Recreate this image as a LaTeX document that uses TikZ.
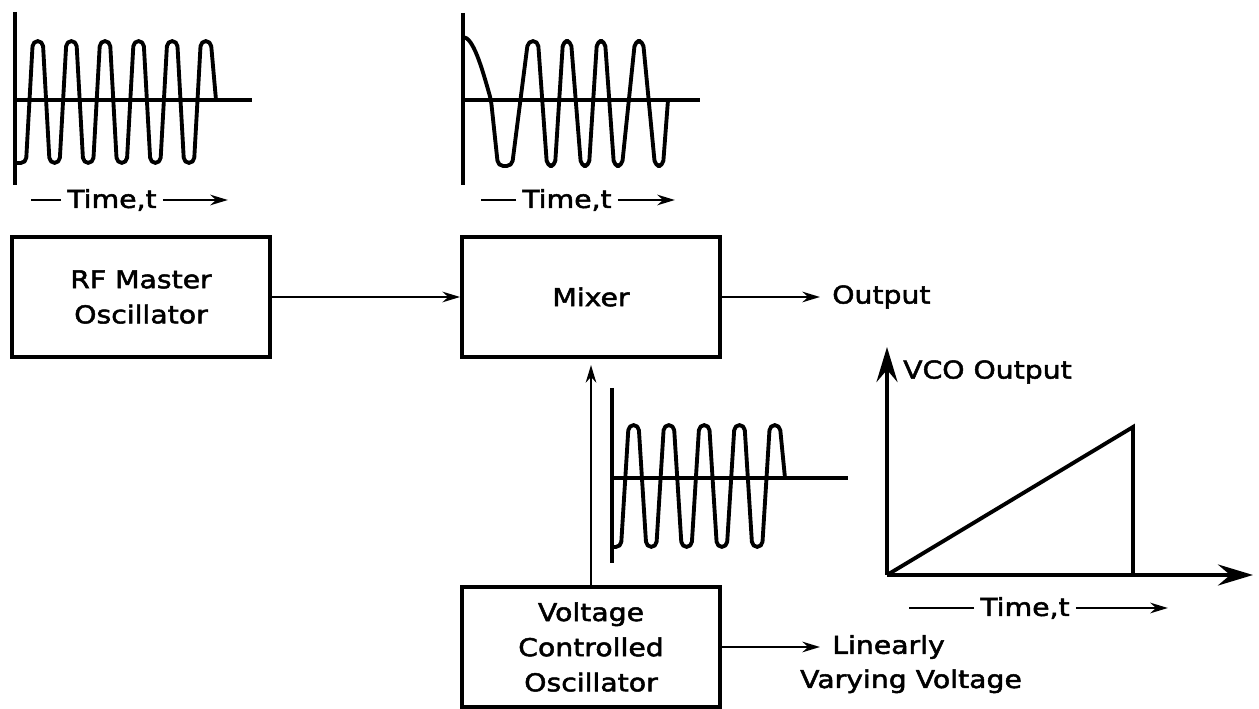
\documentclass[tikz,border=0pt]{standalone}
\usepackage{fontspec}
\setmainfont{DejaVu Sans}[FakeStretch=1.15, FakeBold=2]
\usetikzlibrary{arrows.meta}

\begin{document}
\begin{tikzpicture}[x=0.02cm, y=-0.02cm, >={Stealth[length=10pt,width=6pt]},
  every node/.style={font=\fontsize{14pt}{20pt}\selectfont},
  blk/.style={draw, line width=2.2pt, minimum width=5.16cm, minimum height=2.4cm, align=center},
  lbl/.style={inner sep=0pt, outer sep=7pt},
  conn/.style={->, line width=1.4pt},
  wave/.style={line width=2.2pt, line join=round, rounded corners=3pt},
  axis/.style={line width=2.2pt},
  bigtip/.style={-{Stealth[length=20pt,width=12pt,inset=7pt]}, line width=2.2pt}]
\useasboundingbox (0,0) rectangle (1259,709);

% blocks
\node[blk] (rf) at (141,297) {RF Master\\Oscillator};
\node[blk] (mix) at (591,297) {Mixer};
\node[blk] (vco) at (591,647) {Voltage\\Controlled\\Oscillator};
\node[lbl, anchor=west] (out) at (820,297) {Output};
\node[lbl, anchor=west] (lin) at (820,647) {Linearly};
\node[lbl, anchor=base] (vary) at (911,688) {Varying Voltage};

\draw[conn] (rf) -- (mix);
\draw[conn] (mix) -- (out);
\draw[conn, shorten >=3.5pt] (vco) -- (mix);
\draw[conn] (vco) -- (lin);

% RF master waveform
\draw[axis] (15,12) -- (15,185);
\draw[axis] (15,100) -- (252,100);
\draw[wave] (15,163) foreach \k in {0,...,4}{
    -- ({26+33.6*\k},163) -- ({32.8+33.6*\k},41) -- ({42.8+33.6*\k},41) -- ({49.6+33.6*\k},163)}
  -- (194,163) -- (200.8,41) -- (210.8,41) -- (216,100);
\node (t1) at (112,200) {Time,t};
\draw[line width=1.4pt] (t1.west) -- ++(-30,0);
\draw[conn] (t1.east) -- ++(65,0);

% mixer waveform
\draw[axis] (463,13) -- (463,185);
\draw[axis] (463,100) -- (700,100);
\draw[wave] (463,37) cos (491,100) -- (498,166) -- (512,166) -- (528,41) -- (538,41) -- (547,166) -- (555,166)
  -- (563,41) -- (571,41) -- (581,166) -- (589,166) -- (597,41) -- (605,41) -- (614,166) -- (622,166)
  -- (635,41) -- (643,41) -- (655,166) -- (663,166) -- (668,100);
\node (t2) at (567,200) {Time,t};
\draw[line width=1.4pt] (t2.west) -- ++(-35,0);
\draw[conn] (t2.east) -- ++(57,0);

% VCO waveform
\draw[axis] (612,388) -- (612,563);
\draw[axis] (612,478) -- (848,478);
\draw[wave] (612,547) foreach \k in {0,...,3}{
    -- ({621+35.3*\k},547) -- ({628.6+35.3*\k},425) -- ({638.6+35.3*\k},425) -- ({646.3+35.3*\k},547)}
  -- (762.2,547) -- (769.8,425) -- (779.8,425) -- (785,478);

% VCO output ramp
\coordinate (o) at (887,575);
\draw[bigtip] (o) -- (887,347);
\draw[bigtip] (o) -- (1253,575);
\draw[axis] (o) -- (1133,427) -- (1133,575);
\node[anchor=west] (vcoout) at (897,372) {VCO Output};
\node (t3) at (1025,608) {Time,t};
\draw[line width=1.4pt] (t3.west) -- ++(-65,0);
\draw[conn] (t3.east) -- ++(92,0);
\end{tikzpicture}
\end{document}
